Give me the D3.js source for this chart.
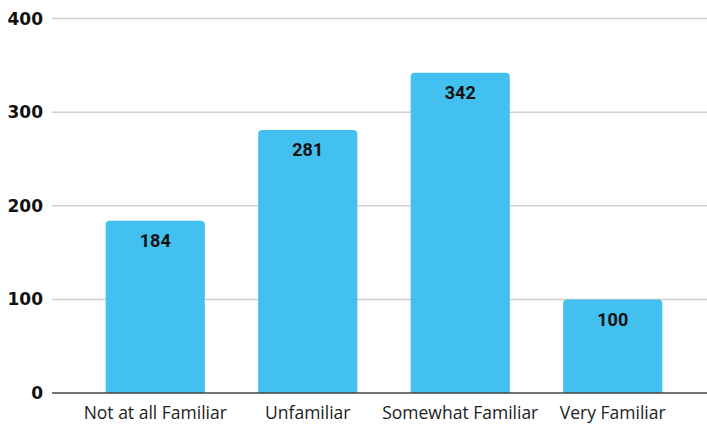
<!DOCTYPE html>
<html lang="en">
<head>
<meta charset="UTF-8">
<title>Familiarity</title>
<script src="https://d3js.org/d3.v7.min.js"></script>
<style>
  body { margin: 0; background: #fff; }
  .grid line { stroke: #cfcfcf; stroke-width: 1.5px; }
  .tick-label { font-family: "DejaVu Sans", sans-serif; font-weight: bold; font-size: 17px; fill: #111; }
  .cat-label { font-family: "Open Sans", sans-serif; font-size: 17.5px; fill: #222; }
  .val-label { font-family: Roboto, sans-serif; font-weight: bold; font-size: 18px; fill: #111; }
</style>
</head>
<body>
<svg id="chart" width="707" height="427"></svg>
<script>
// data
const categories = ["Not at all Familiar", "Unfamiliar", "Somewhat Familiar", "Very Familiar"];
const values = [184, 281, 342, 100];
const yTicks = [0, 100, 200, 300, 400];

const svg = d3.select("#chart");

const y = d3.scaleLinear().domain([0, 400]).range([393, 18.5]);
const x = d3.scaleBand().domain(categories).range([79, 689]).paddingInner(0.35).paddingOuter(0.175);

// gridlines
svg.append("g").attr("class", "grid")
  .selectAll("line")
  .data(yTicks.filter(d => d > 0))
  .enter().append("line")
  .attr("x1", 52).attr("x2", 707)
  .attr("y1", d => y(d)).attr("y2", d => y(d));

// y labels
svg.selectAll(".tick-label")
  .data(yTicks)
  .enter().append("text")
  .attr("class", "tick-label")
  .attr("x", 43)
  .attr("y", d => y(d))
  .attr("dy", "0.36em")
  .attr("text-anchor", "end")
  .text(d => d);

// bars with rounded top corners
const r = 4;
svg.selectAll(".bar")
  .data(values)
  .enter().append("path")
  .attr("class", "bar")
  .attr("fill", "#42c0ef")
  .attr("d", (d, i) => {
    const x0 = x(categories[i]), w = x.bandwidth();
    const top = y(d), bot = y(0);
    return `M${x0},${bot} V${top + r} Q${x0},${top} ${x0 + r},${top} H${x0 + w - r} Q${x0 + w},${top} ${x0 + w},${top + r} V${bot} Z`;
  });

// baseline
svg.append("line")
  .attr("x1", 52).attr("x2", 707)
  .attr("y1", y(0)).attr("y2", y(0))
  .attr("stroke", "#444").attr("stroke-width", 1.5);

// value labels
svg.selectAll(".val-label")
  .data(values)
  .enter().append("text")
  .attr("class", "val-label")
  .attr("x", (d, i) => x(categories[i]) + x.bandwidth() / 2)
  .attr("y", d => y(d) + 20)
  .attr("dy", "0.36em")
  .attr("text-anchor", "middle")
  .text(d => d);

// category labels
svg.selectAll(".cat-label")
  .data(categories)
  .enter().append("text")
  .attr("class", "cat-label")
  .attr("x", d => x(d) + x.bandwidth() / 2)
  .attr("y", 413)
  .attr("dy", "0.36em")
  .attr("text-anchor", "middle")
  .text(d => d);
</script>
</body>
</html>
